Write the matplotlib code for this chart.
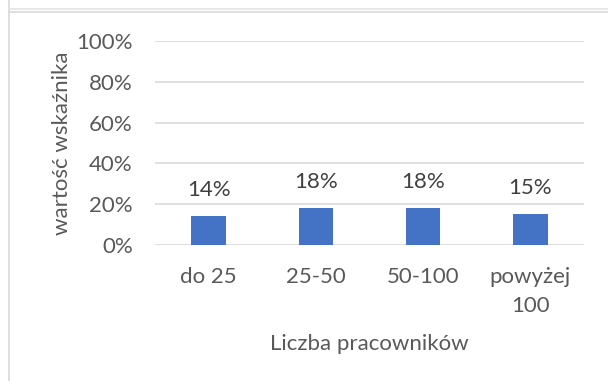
import matplotlib
matplotlib.use("Agg")
import matplotlib.pyplot as plt
from matplotlib.lines import Line2D

plt.rcParams['font.family'] = ['Lato', 'DejaVu Sans']

# wskaźnik wg liczby pracowników
kategorie = ['do 25', '25-50', '50-100', 'powyżej\n100']
wartosci = [0.14, 0.18, 0.18, 0.15]
yticks = [0, 0.2, 0.4, 0.6, 0.8, 1.0]

szary = '#595959'
siatka = '#D9D9D9'
niebieski = '#4472C4'
fs = 16

fig = plt.figure(figsize=(6.08, 3.81), dpi=100)
ax = fig.add_axes([155 / 608, 1 - 245 / 381, 429 / 608, 204 / 381])

x = range(len(kategorie))
bars = ax.bar(x, wartosci, width=0.32, color=niebieski, zorder=3)

for b, v in zip(bars, wartosci):
    ax.annotate('{:.0%}'.format(v), (b.get_x() + b.get_width() / 2, v),
                xytext=(0, 19), textcoords='offset points',
                ha='center', va='center', fontsize=fs, color='#404040')

ax.set_xlim(-0.5, len(kategorie) - 0.5)
ax.set_ylim(0, 1)
ax.set_yticks(yticks)
ax.set_yticklabels(['{:.0%}'.format(t) for t in yticks])
ax.set_xticks(list(x))
ax.set_xticklabels(kategorie, linespacing=1.55)
ax.tick_params(axis='both', length=0, labelsize=fs, labelcolor=szary)
ax.tick_params(axis='y', pad=16)
ax.tick_params(axis='x', pad=16)

ax.grid(axis='y', color=siatka, linewidth=1.2, zorder=0)
for s in ax.spines.values():
    s.set_visible(False)

ax.set_xlabel('Liczba pracowników', fontsize=fs, color=szary, labelpad=13)
ax.set_ylabel('wartość wskaźnika', fontsize=fs, color=szary, labelpad=3)

# ramki wykresu
fig.add_artist(Line2D([8.5 / 608, 8.5 / 608], [0, 1], color=siatka, lw=1.2))
fig.add_artist(Line2D([8.5 / 608, 1], [1 - 8.5 / 381] * 2, color='#E3E3E3', lw=1.2))
fig.add_artist(Line2D([8.5 / 608, 1], [1 - 12 / 381] * 2, color=siatka, lw=1.2))

fig.savefig('out.png', dpi=100)
